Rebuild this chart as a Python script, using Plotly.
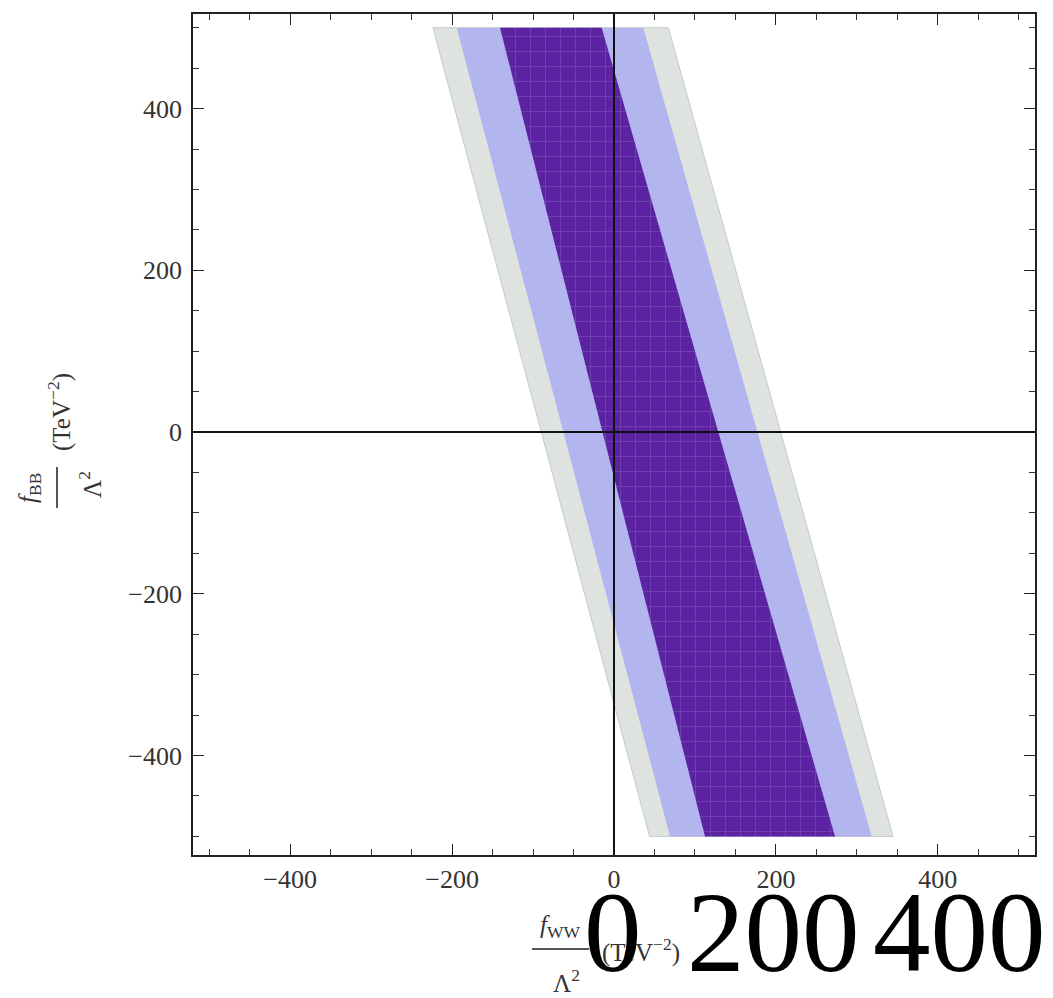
import plotly.graph_objects as go

# ---- data ----
y_top = 500
y_bottom = -500
# band edges: x at y = +500 (top) and y = -500 (bottom)
gray_left = [-223.6, 44.0]
gray_right = [67.1, 344.6]
blue_left = [-194.3, 69.2]
blue_right = [36.2, 318.3]
purple_left = [-140.8, 112.4]
purple_right = [-15.2, 273.0]

tick_vals = [-400, -200, 0, 200, 400]
tick_text = ["\u2212400", "\u2212200", "0", "200", "400"]
big_labels = ["0", "200", "400"]

# ---- layout geometry helpers (pixels -> paper) ----
W, H = 1053, 998
L, R, T, B = 193, 18, 14, 143
pw, ph = W - L - R, H - T - B


def px(x):
    return (x - L) / pw


def py(y):
    return (H - B - y) / ph


def band(left, right, fill, line=None):
    return go.Scatter(
        x=[left[0], right[0], right[1], left[1], left[0]],
        y=[y_top, y_top, y_bottom, y_bottom, y_top],
        fill="toself", fillcolor=fill, mode="lines",
        line=dict(color=line or fill, width=1 if line else 0),
        hoverinfo="skip", showlegend=False,
    )


fig = go.Figure()
fig.add_trace(band(gray_left, gray_right, "#dfe3df", "#c6c9c6"))
fig.add_trace(band(blue_left, blue_right, "#b3b6ee"))
purple = band(purple_left, purple_right, "#5b22a2")
purple.fillpattern = dict(shape="+", bgcolor="#5b22a2", fgcolor="#8660c4",
                          size=15, solidity=0.12)
fig.add_trace(purple)

axis_common = dict(
    showline=True, linecolor="#222", linewidth=1.8, mirror="ticks",
    ticks="inside", ticklen=11, tickwidth=1.4, tickcolor="#222",
    tickvals=tick_vals, ticktext=tick_text,
    minor=dict(dtick=50, tick0=0, ticks="inside", ticklen=6, tickwidth=1.2,
               tickcolor="#333"),
    showgrid=False, zeroline=False,
    tickfont=dict(family="Liberation Serif", size=26, color="#333"),
)
fig.update_xaxes(range=[-520, 520], ticklabelstandoff=0, **axis_common)
fig.update_yaxes(range=[-523, 517], ticklabelstandoff=4, **axis_common)

# axes through the origin
fig.add_shape(type="line", xref="x", yref="paper", x0=0, x1=0, y0=0, y1=1,
              line=dict(color="#111", width=2), layer="above")
fig.add_shape(type="line", xref="paper", yref="y", x0=0, x1=1, y0=0, y1=0,
              line=dict(color="#111", width=2), layer="above")

lab_font = dict(family="Liberation Serif", size=25, color="#333")
ann = []
# y-axis title (rotated fraction)
ann.append(dict(text="<i>f</i><sub>BB</sub>", x=px(30), y=py(488), textangle=-90))
ann.append(dict(text="\u039b<sup>2</sup>", x=px(90), y=py(485), textangle=-90))
ann.append(dict(text="(TeV<sup>\u22122</sup>)", x=px(59), y=py(412), textangle=-90))
fig.add_shape(type="line", xref="paper", yref="paper", x0=px(57), x1=px(57),
              y0=py(467), y1=py(508), line=dict(color="#555", width=2))
# x-axis title (fraction)
ann.append(dict(text="<i>f</i><sub>WW</sub>", x=px(560), y=py(926)))
ann.append(dict(text="\u039b<sup>2</sup>", x=px(566), y=py(981)))
ann.append(dict(text="(TeV<sup>\u22122</sup>)", x=px(641), y=py(950)))
fig.add_shape(type="line", xref="paper", yref="paper", x0=px(532), x1=px(589),
              y0=py(949), y1=py(949), line=dict(color="#555", width=2))
for a in ann:
    a.update(xref="paper", yref="paper", showarrow=False, font=lab_font,
             xanchor="center", yanchor="middle")
    fig.add_annotation(**a)

# large overlay labels
big_x = [613, 773, 959]
for t, xx in zip(big_labels, big_x):
    fig.add_annotation(text=t, x=px(xx), y=py(932), xref="paper", yref="paper",
                       showarrow=False, xanchor="center", yanchor="middle",
                       font=dict(family="Liberation Serif", size=115, color="#000"))

fig.update_layout(
    width=W, height=H, autosize=False,
    margin=dict(l=L, r=R, t=T, b=B),
    plot_bgcolor="white", paper_bgcolor="white",
)

fig.write_html("out.html")
